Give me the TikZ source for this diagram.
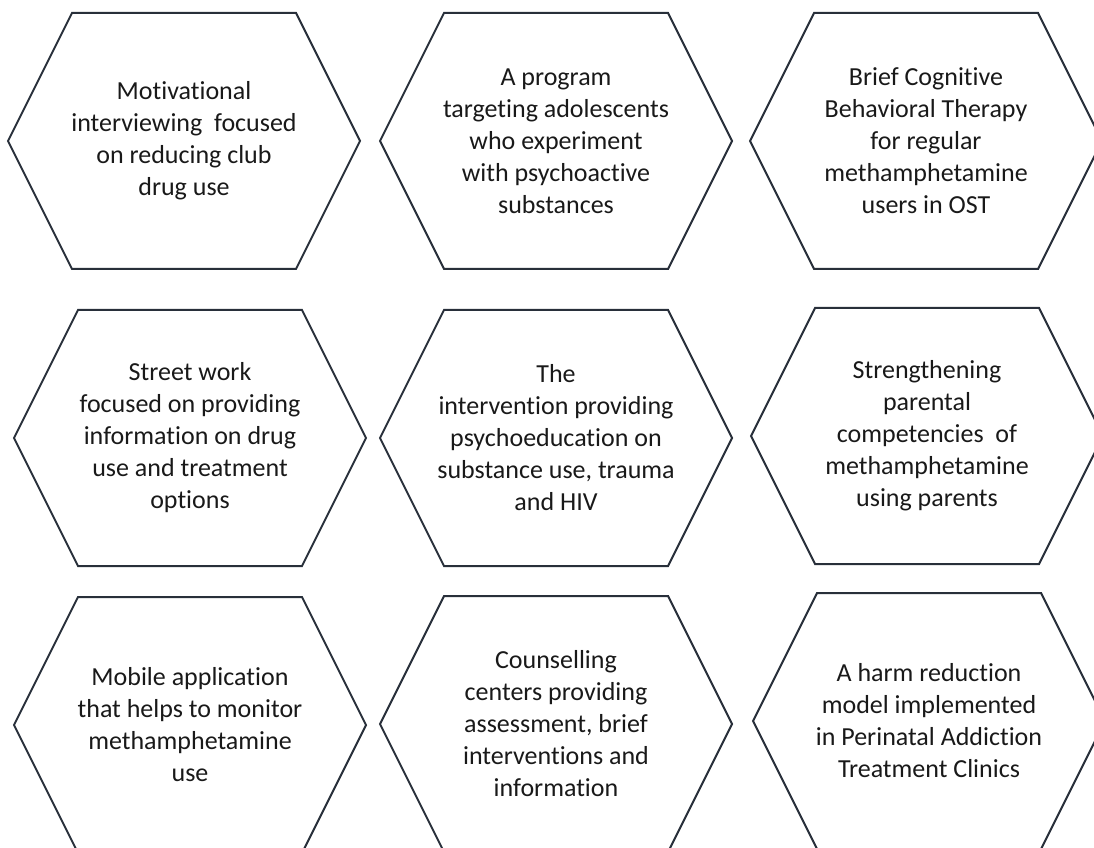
\documentclass[tikz,border=0pt]{standalone}
\usepackage{fontspec}
\setmainfont{Carlito}[Ligatures=NoCommon]
\usepackage{xcolor}
\usepackage{tikz}
\definecolor{hexline}{RGB}{40,47,58}
\definecolor{hextext}{RGB}{25,25,25}
\tikzset{item/.style={align=center,inner sep=0pt,text=hextext,font=\fontsize{26}{32}\selectfont}}
\tikzset{hexedge/.style={draw=hexline,line width=2pt,line join=miter}}
\newcommand{\hexround}[1]{%
  \draw[hexedge] ([xshift=-176pt]#1.center) -- ([xshift=-112pt,yshift=128pt]#1.center)
    -- ([xshift=112pt,yshift=128pt]#1.center) -- ([xshift=176pt]#1.center)
    -- ([xshift=112pt,yshift=-128pt]#1.center) -- ([xshift=-112pt,yshift=-128pt]#1.center) -- cycle;}

\begin{document}
\begin{tikzpicture}[x=1pt,y=1pt]
\useasboundingbox (0,0) rectangle (1094,847);
\clip (0,0) rectangle (1094,847);
% first row
\node[item] (club) at (184,706) {Motivational\\interviewing\ \ focused\\on reducing club\\drug use};
\node[item] (teen) at (556,706) {A program\\targeting adolescents\\who experiment\\with psychoactive\\substances};
\node[item] (cbt) at (926,706) {Brief Cognitive\\Behavioral Therapy\\for regular\\methamphetamine\\users in OST};
% second row
\node[item] (street) at (190,409) {Street work\\focused on providing\\information on drug\\use and treatment\\options};
\node[item] (psyed) at (556,409) {The\\intervention providing\\psychoeducation on\\substance use, trauma\\and HIV};
\node[item] (parent) at (927,411) {Strengthening\\parental\\competencies\ \ of\\methamphetamine\\using parents};
% third row
\node[item] (app) at (190,122) {Mobile application\\that helps to monitor\\methamphetamine\\use};
\node[item] (centre) at (556,123) {Counselling\\centers providing\\assessment, brief\\interventions and\\information};
\node[item] (harm) at (929,126) {A harm reduction\\model implemented\\in Perinatal Addiction\\Treatment Clinics};
\foreach \n in {club,teen,cbt,street,psyed,parent,app,centre,harm}
  {\hexround{\n}}
\end{tikzpicture}
\end{document}
